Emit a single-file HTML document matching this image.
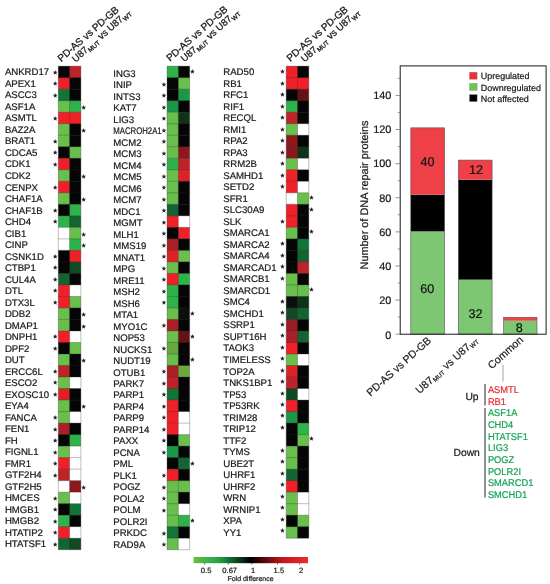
<!DOCTYPE html>
<html><head><meta charset="utf-8"><title>DNA repair proteins</title>
<style>
html,body{margin:0;padding:0;background:#fff}
svg{display:block;text-rendering:geometricPrecision;will-change:transform;transform:translateZ(0);filter:blur(.35px)}
text{font-family:"Liberation Sans",Arial,sans-serif;fill:#1a1a1a;stroke:#1a1a1a;stroke-width:.22px}
.g{font-size:9.6px}
.st{font-family:"DejaVu Sans",sans-serif;font-size:4.3px;text-anchor:middle;stroke-width:.5px}
.gl{stroke:#303030;stroke-width:0.7;stroke-opacity:.45}
.hd{font-size:10.0px;stroke:#1a1a1a;stroke-width:.28px}
.sub{font-size:6.4px}
.xl{font-size:10.6px;stroke-width:.2px}
.xl .sub{font-size:6.3px}
.cbt{font-size:7px}
.tk{font-size:10.9px}
.bn{font-size:12.6px;fill:#111}
.lg{font-size:8.95px}
.cm{font-size:9.8px}
.ud{font-size:10.3px}
</style></head><body>
<svg width="550" height="584" viewBox="0 0 550 584">
<defs><linearGradient id="cb" x1="0" x2="1" y1="0" y2="0">
<stop offset="0" stop-color="#6cbd45"/><stop offset="0.22" stop-color="#1fa548"/><stop offset="0.5" stop-color="#000"/><stop offset="0.78" stop-color="#c4161c"/><stop offset="1" stop-color="#ee2b2b"/>
</linearGradient></defs>
<rect width="550" height="584" fill="#fff"/>
<rect x="58.30" y="66.15" width="11.80" height="12.01" fill="#050505"/>
<rect x="69.60" y="66.15" width="11.30" height="12.01" fill="#be2329"/>
<text x="4.9" y="75.36" class="g">ANKRD17</text>
<text x="55.30" y="73.61" class="st">★</text>
<rect x="58.30" y="77.66" width="11.80" height="12.01" fill="#f02028"/>
<rect x="69.60" y="77.66" width="11.30" height="12.01" fill="#050505"/>
<text x="4.9" y="86.87" class="g">APEX1</text>
<text x="55.30" y="85.12" class="st">★</text>
<rect x="58.30" y="89.18" width="11.80" height="12.01" fill="#127438"/>
<rect x="69.60" y="89.18" width="11.30" height="12.01" fill="#050505"/>
<text x="4.9" y="98.39" class="g">ASCC3</text>
<text x="55.30" y="96.64" class="st">★</text>
<rect x="58.30" y="100.69" width="11.80" height="12.01" fill="#69bf4b"/>
<rect x="69.60" y="100.69" width="11.30" height="12.01" fill="#2db34a"/>
<text x="4.9" y="109.90" class="g">ASF1A</text>
<text x="83.60" y="108.95" class="st">★</text>
<rect x="58.30" y="112.21" width="11.80" height="12.01" fill="#f02028"/>
<rect x="69.60" y="112.21" width="11.30" height="12.01" fill="#f02028"/>
<text x="4.9" y="121.41" class="g">ASMTL</text>
<text x="55.30" y="119.66" class="st">★</text>
<rect x="58.30" y="123.72" width="11.80" height="12.01" fill="#69bf4b"/>
<rect x="69.60" y="123.72" width="11.30" height="12.01" fill="#050505"/>
<text x="4.9" y="132.93" class="g">BAZ2A</text>
<text x="83.60" y="131.98" class="st">★</text>
<rect x="58.30" y="135.23" width="11.80" height="12.01" fill="#69bf4b"/>
<rect x="69.60" y="135.23" width="11.30" height="12.01" fill="#050505"/>
<text x="4.9" y="144.44" class="g">BRAT1</text>
<text x="55.30" y="142.69" class="st">★</text>
<rect x="58.30" y="146.75" width="11.80" height="12.01" fill="#050505"/>
<rect x="69.60" y="146.75" width="11.30" height="12.01" fill="#69bf4b"/>
<text x="4.9" y="155.95" class="g">CDCA5</text>
<text x="55.30" y="154.20" class="st">★</text>
<rect x="58.30" y="158.26" width="11.80" height="12.01" fill="#f02028"/>
<rect x="69.60" y="158.26" width="11.30" height="12.01" fill="#050505"/>
<text x="4.9" y="167.47" class="g">CDK1</text>
<text x="55.30" y="165.72" class="st">★</text>
<rect x="58.30" y="169.78" width="11.80" height="12.01" fill="#69bf4b"/>
<rect x="69.60" y="169.78" width="11.30" height="12.01" fill="#050505"/>
<text x="4.9" y="178.98" class="g">CDK2</text>
<text x="83.60" y="178.03" class="st">★</text>
<rect x="58.30" y="181.29" width="11.80" height="12.01" fill="#f02028"/>
<rect x="69.60" y="181.29" width="11.30" height="12.01" fill="#050505"/>
<text x="4.9" y="190.50" class="g">CENPX</text>
<text x="55.30" y="188.75" class="st">★</text>
<rect x="58.30" y="192.80" width="11.80" height="12.01" fill="#69bf4b"/>
<rect x="69.60" y="192.80" width="11.30" height="12.01" fill="#050505"/>
<text x="4.9" y="202.01" class="g">CHAF1A</text>
<text x="83.60" y="201.06" class="st">★</text>
<rect x="58.30" y="204.32" width="11.80" height="12.01" fill="#050505"/>
<rect x="69.60" y="204.32" width="11.30" height="12.01" fill="#2db34a"/>
<text x="4.9" y="213.53" class="g">CHAF1B</text>
<text x="55.30" y="211.78" class="st">★</text>
<rect x="58.30" y="215.83" width="11.80" height="12.01" fill="#2db34a"/>
<rect x="69.60" y="215.83" width="11.30" height="12.01" fill="#146433"/>
<text x="4.9" y="225.04" class="g">CHD4</text>
<text x="55.30" y="223.29" class="st">★</text>
<rect x="58.30" y="227.35" width="11.80" height="12.01" fill="#ffffff"/>
<rect x="69.60" y="227.35" width="11.30" height="12.01" fill="#69bf4b"/>
<text x="4.9" y="236.55" class="g">CIB1</text>
<text x="83.60" y="235.60" class="st">★</text>
<rect x="58.30" y="238.86" width="11.80" height="12.01" fill="#ffffff"/>
<rect x="69.60" y="238.86" width="11.30" height="12.01" fill="#2db34a"/>
<text x="4.9" y="248.07" class="g">CINP</text>
<text x="83.60" y="247.12" class="st">★</text>
<rect x="58.30" y="250.37" width="11.80" height="12.01" fill="#050505"/>
<rect x="69.60" y="250.37" width="11.30" height="12.01" fill="#f02028"/>
<text x="4.9" y="259.58" class="g">CSNK1D</text>
<text x="55.30" y="257.83" class="st">★</text>
<rect x="58.30" y="261.89" width="11.80" height="12.01" fill="#050505"/>
<rect x="69.60" y="261.89" width="11.30" height="12.01" fill="#104a25"/>
<text x="4.9" y="271.10" class="g">CTBP1</text>
<text x="55.30" y="269.35" class="st">★</text>
<rect x="58.30" y="273.40" width="11.80" height="12.01" fill="#146433"/>
<rect x="69.60" y="273.40" width="11.30" height="12.01" fill="#050505"/>
<text x="4.9" y="282.61" class="g">CUL4A</text>
<text x="55.30" y="280.86" class="st">★</text>
<rect x="58.30" y="284.92" width="11.80" height="12.01" fill="#f02028"/>
<rect x="69.60" y="284.92" width="11.30" height="12.01" fill="#ffffff"/>
<text x="4.9" y="294.12" class="g">DTL</text>
<text x="55.30" y="292.37" class="st">★</text>
<rect x="58.30" y="296.43" width="11.80" height="12.01" fill="#f02028"/>
<rect x="69.60" y="296.43" width="11.30" height="12.01" fill="#69bf4b"/>
<text x="4.9" y="305.64" class="g">DTX3L</text>
<text x="55.30" y="303.89" class="st">★</text>
<rect x="58.30" y="307.94" width="11.80" height="12.01" fill="#69bf4b"/>
<rect x="69.60" y="307.94" width="11.30" height="12.01" fill="#050505"/>
<text x="4.9" y="317.15" class="g">DDB2</text>
<text x="83.60" y="316.20" class="st">★</text>
<rect x="58.30" y="319.46" width="11.80" height="12.01" fill="#69bf4b"/>
<rect x="69.60" y="319.46" width="11.30" height="12.01" fill="#050505"/>
<text x="4.9" y="328.66" class="g">DMAP1</text>
<text x="83.60" y="327.71" class="st">★</text>
<rect x="58.30" y="330.97" width="11.80" height="12.01" fill="#f02028"/>
<rect x="69.60" y="330.97" width="11.30" height="12.01" fill="#ffffff"/>
<text x="4.9" y="340.18" class="g">DNPH1</text>
<text x="55.30" y="338.43" class="st">★</text>
<rect x="58.30" y="342.49" width="11.80" height="12.01" fill="#050505"/>
<rect x="69.60" y="342.49" width="11.30" height="12.01" fill="#69bf4b"/>
<text x="4.9" y="351.69" class="g">DPF2</text>
<text x="55.30" y="349.94" class="st">★</text>
<rect x="58.30" y="354.00" width="11.80" height="12.01" fill="#69bf4b"/>
<rect x="69.60" y="354.00" width="11.30" height="12.01" fill="#050505"/>
<text x="4.9" y="363.21" class="g">DUT</text>
<text x="83.60" y="362.26" class="st">★</text>
<rect x="58.30" y="365.51" width="11.80" height="12.01" fill="#be2329"/>
<rect x="69.60" y="365.51" width="11.30" height="12.01" fill="#050505"/>
<text x="4.9" y="374.72" class="g">ERCC6L</text>
<text x="55.30" y="372.97" class="st">★</text>
<rect x="58.30" y="377.03" width="11.80" height="12.01" fill="#69bf4b"/>
<rect x="69.60" y="377.03" width="11.30" height="12.01" fill="#ffffff"/>
<text x="4.9" y="386.24" class="g">ESCO2</text>
<text x="55.30" y="384.49" class="st">★</text>
<rect x="58.30" y="388.54" width="11.80" height="12.01" fill="#de2127"/>
<rect x="69.60" y="388.54" width="11.30" height="12.01" fill="#050505"/>
<text x="4.9" y="397.75" class="g">EXOSC10</text>
<text x="55.30" y="396.00" class="st">★</text>
<rect x="58.30" y="400.06" width="11.80" height="12.01" fill="#69bf4b"/>
<rect x="69.60" y="400.06" width="11.30" height="12.01" fill="#050505"/>
<text x="4.9" y="409.26" class="g">EYA4</text>
<text x="83.60" y="408.31" class="st">★</text>
<rect x="58.30" y="411.57" width="11.80" height="12.01" fill="#69bf4b"/>
<rect x="69.60" y="411.57" width="11.30" height="12.01" fill="#ffffff"/>
<text x="4.9" y="420.78" class="g">FANCA</text>
<text x="55.30" y="419.03" class="st">★</text>
<rect x="58.30" y="423.08" width="11.80" height="12.01" fill="#ab2026"/>
<rect x="69.60" y="423.08" width="11.30" height="12.01" fill="#050505"/>
<text x="4.9" y="432.29" class="g">FEN1</text>
<text x="55.30" y="430.54" class="st">★</text>
<rect x="58.30" y="434.60" width="11.80" height="12.01" fill="#050505"/>
<rect x="69.60" y="434.60" width="11.30" height="12.01" fill="#2db34a"/>
<text x="4.9" y="443.80" class="g">FH</text>
<text x="55.30" y="442.05" class="st">★</text>
<rect x="58.30" y="446.11" width="11.80" height="12.01" fill="#69bf4b"/>
<rect x="69.60" y="446.11" width="11.30" height="12.01" fill="#ffffff"/>
<text x="4.9" y="455.32" class="g">FIGNL1</text>
<text x="55.30" y="453.57" class="st">★</text>
<rect x="58.30" y="457.63" width="11.80" height="12.01" fill="#f02028"/>
<rect x="69.60" y="457.63" width="11.30" height="12.01" fill="#ffffff"/>
<text x="4.9" y="466.83" class="g">FMR1</text>
<text x="55.30" y="465.08" class="st">★</text>
<rect x="58.30" y="469.14" width="11.80" height="12.01" fill="#be2329"/>
<rect x="69.60" y="469.14" width="11.30" height="12.01" fill="#ffffff"/>
<text x="4.9" y="478.35" class="g">GTF2H4</text>
<text x="55.30" y="476.60" class="st">★</text>
<rect x="58.30" y="480.65" width="11.80" height="12.01" fill="#ffffff"/>
<rect x="69.60" y="480.65" width="11.30" height="12.01" fill="#8c181c"/>
<text x="4.9" y="489.86" class="g">GTF2H5</text>
<text x="83.60" y="488.91" class="st">★</text>
<rect x="58.30" y="492.17" width="11.80" height="12.01" fill="#69bf4b"/>
<rect x="69.60" y="492.17" width="11.30" height="12.01" fill="#ffffff"/>
<text x="4.9" y="501.38" class="g">HMCES</text>
<text x="55.30" y="499.62" class="st">★</text>
<rect x="58.30" y="503.68" width="11.80" height="12.01" fill="#050505"/>
<rect x="69.60" y="503.68" width="11.30" height="12.01" fill="#127438"/>
<text x="4.9" y="512.89" class="g">HMGB1</text>
<text x="55.30" y="511.14" class="st">★</text>
<rect x="58.30" y="515.20" width="11.80" height="12.01" fill="#2db34a"/>
<rect x="69.60" y="515.20" width="11.30" height="12.01" fill="#050505"/>
<text x="4.9" y="524.40" class="g">HMGB2</text>
<text x="55.30" y="522.65" class="st">★</text>
<rect x="58.30" y="526.71" width="11.80" height="12.01" fill="#f02028"/>
<rect x="69.60" y="526.71" width="11.30" height="12.01" fill="#ffffff"/>
<text x="4.9" y="535.92" class="g">HTATIP2</text>
<text x="55.30" y="534.17" class="st">★</text>
<rect x="58.30" y="538.22" width="11.80" height="11.51" fill="#146433"/>
<rect x="69.60" y="538.22" width="11.30" height="11.51" fill="#104a25"/>
<text x="4.9" y="547.43" class="g">HTATSF1</text>
<text x="55.30" y="545.68" class="st">★</text>
<line x1="58.30" x2="80.90" y1="66.15" y2="66.15" class="gl"/>
<line x1="58.30" x2="80.90" y1="77.66" y2="77.66" class="gl"/>
<line x1="58.30" x2="80.90" y1="89.18" y2="89.18" class="gl"/>
<line x1="58.30" x2="80.90" y1="100.69" y2="100.69" class="gl"/>
<line x1="58.30" x2="80.90" y1="112.21" y2="112.21" class="gl"/>
<line x1="58.30" x2="80.90" y1="123.72" y2="123.72" class="gl"/>
<line x1="58.30" x2="80.90" y1="135.23" y2="135.23" class="gl"/>
<line x1="58.30" x2="80.90" y1="146.75" y2="146.75" class="gl"/>
<line x1="58.30" x2="80.90" y1="158.26" y2="158.26" class="gl"/>
<line x1="58.30" x2="80.90" y1="169.78" y2="169.78" class="gl"/>
<line x1="58.30" x2="80.90" y1="181.29" y2="181.29" class="gl"/>
<line x1="58.30" x2="80.90" y1="192.80" y2="192.80" class="gl"/>
<line x1="58.30" x2="80.90" y1="204.32" y2="204.32" class="gl"/>
<line x1="58.30" x2="80.90" y1="215.83" y2="215.83" class="gl"/>
<line x1="58.30" x2="80.90" y1="227.35" y2="227.35" class="gl"/>
<line x1="58.30" x2="80.90" y1="238.86" y2="238.86" class="gl"/>
<line x1="58.30" x2="80.90" y1="250.37" y2="250.37" class="gl"/>
<line x1="58.30" x2="80.90" y1="261.89" y2="261.89" class="gl"/>
<line x1="58.30" x2="80.90" y1="273.40" y2="273.40" class="gl"/>
<line x1="58.30" x2="80.90" y1="284.92" y2="284.92" class="gl"/>
<line x1="58.30" x2="80.90" y1="296.43" y2="296.43" class="gl"/>
<line x1="58.30" x2="80.90" y1="307.94" y2="307.94" class="gl"/>
<line x1="58.30" x2="80.90" y1="319.46" y2="319.46" class="gl"/>
<line x1="58.30" x2="80.90" y1="330.97" y2="330.97" class="gl"/>
<line x1="58.30" x2="80.90" y1="342.49" y2="342.49" class="gl"/>
<line x1="58.30" x2="80.90" y1="354.00" y2="354.00" class="gl"/>
<line x1="58.30" x2="80.90" y1="365.51" y2="365.51" class="gl"/>
<line x1="58.30" x2="80.90" y1="377.03" y2="377.03" class="gl"/>
<line x1="58.30" x2="80.90" y1="388.54" y2="388.54" class="gl"/>
<line x1="58.30" x2="80.90" y1="400.06" y2="400.06" class="gl"/>
<line x1="58.30" x2="80.90" y1="411.57" y2="411.57" class="gl"/>
<line x1="58.30" x2="80.90" y1="423.08" y2="423.08" class="gl"/>
<line x1="58.30" x2="80.90" y1="434.60" y2="434.60" class="gl"/>
<line x1="58.30" x2="80.90" y1="446.11" y2="446.11" class="gl"/>
<line x1="58.30" x2="80.90" y1="457.63" y2="457.63" class="gl"/>
<line x1="58.30" x2="80.90" y1="469.14" y2="469.14" class="gl"/>
<line x1="58.30" x2="80.90" y1="480.65" y2="480.65" class="gl"/>
<line x1="58.30" x2="80.90" y1="492.17" y2="492.17" class="gl"/>
<line x1="58.30" x2="80.90" y1="503.68" y2="503.68" class="gl"/>
<line x1="58.30" x2="80.90" y1="515.20" y2="515.20" class="gl"/>
<line x1="58.30" x2="80.90" y1="526.71" y2="526.71" class="gl"/>
<line x1="58.30" x2="80.90" y1="538.22" y2="538.22" class="gl"/>
<line x1="58.30" x2="80.90" y1="549.74" y2="549.74" class="gl"/>
<line x1="58.30" x2="58.30" y1="66.15" y2="549.74" class="gl"/>
<line x1="69.60" x2="69.60" y1="66.15" y2="549.74" class="gl"/>
<line x1="80.90" x2="80.90" y1="66.15" y2="549.74" class="gl"/>
<rect x="167.05" y="66.15" width="11.80" height="12.01" fill="#2db34a"/>
<rect x="178.35" y="66.15" width="11.30" height="12.01" fill="#050505"/>
<text x="113.3" y="76.66" class="g">ING3</text>
<text x="192.35" y="73.41" class="st">★</text>
<rect x="167.05" y="77.66" width="11.80" height="12.01" fill="#050505"/>
<rect x="178.35" y="77.66" width="11.30" height="12.01" fill="#69bf4b"/>
<text x="113.3" y="88.15" class="g">INIP</text>
<text x="164.05" y="85.52" class="st">★</text>
<rect x="167.05" y="89.18" width="11.80" height="12.01" fill="#050505"/>
<rect x="178.35" y="89.18" width="11.30" height="12.01" fill="#1b9847"/>
<text x="113.3" y="99.65" class="g">INTS3</text>
<text x="164.05" y="97.03" class="st">★</text>
<rect x="167.05" y="100.69" width="11.80" height="12.01" fill="#1b9847"/>
<rect x="178.35" y="100.69" width="11.30" height="12.01" fill="#050505"/>
<text x="113.3" y="111.14" class="g">KAT7</text>
<text x="164.05" y="108.55" class="st">★</text>
<rect x="167.05" y="112.21" width="11.80" height="12.01" fill="#69bf4b"/>
<rect x="178.35" y="112.21" width="11.30" height="12.01" fill="#0f3319"/>
<text x="113.3" y="122.63" class="g">LIG3</text>
<text x="164.05" y="120.06" class="st">★</text>
<rect x="167.05" y="123.72" width="11.80" height="12.01" fill="#69bf4b"/>
<rect x="178.35" y="123.72" width="11.30" height="12.01" fill="#050505"/>
<text x="113.3" y="134.08" class="g" textLength="48.4" lengthAdjust="spacingAndGlyphs">MACROH2A1</text>
<text x="164.05" y="131.58" class="st">★</text>
<rect x="167.05" y="135.23" width="11.80" height="12.01" fill="#69bf4b"/>
<rect x="178.35" y="135.23" width="11.30" height="12.01" fill="#050505"/>
<text x="113.3" y="145.62" class="g">MCM2</text>
<text x="164.05" y="143.09" class="st">★</text>
<rect x="167.05" y="146.75" width="11.80" height="12.01" fill="#69bf4b"/>
<rect x="178.35" y="146.75" width="11.30" height="12.01" fill="#8c181c"/>
<text x="113.3" y="157.11" class="g">MCM3</text>
<text x="164.05" y="154.60" class="st">★</text>
<rect x="167.05" y="158.26" width="11.80" height="12.01" fill="#2db34a"/>
<rect x="178.35" y="158.26" width="11.30" height="12.01" fill="#be2329"/>
<text x="113.3" y="168.61" class="g">MCM4</text>
<text x="164.05" y="166.12" class="st">★</text>
<rect x="167.05" y="169.78" width="11.80" height="12.01" fill="#69bf4b"/>
<rect x="178.35" y="169.78" width="11.30" height="12.01" fill="#de2127"/>
<text x="113.3" y="180.10" class="g">MCM5</text>
<text x="164.05" y="177.63" class="st">★</text>
<rect x="167.05" y="181.29" width="11.80" height="12.01" fill="#69bf4b"/>
<rect x="178.35" y="181.29" width="11.30" height="12.01" fill="#050505"/>
<text x="113.3" y="191.60" class="g">MCM6</text>
<text x="164.05" y="189.15" class="st">★</text>
<rect x="167.05" y="192.80" width="11.80" height="12.01" fill="#69bf4b"/>
<rect x="178.35" y="192.80" width="11.30" height="12.01" fill="#050505"/>
<text x="113.3" y="203.09" class="g">MCM7</text>
<text x="164.05" y="200.66" class="st">★</text>
<rect x="167.05" y="204.32" width="11.80" height="12.01" fill="#146433"/>
<rect x="178.35" y="204.32" width="11.30" height="12.01" fill="#050505"/>
<text x="113.3" y="214.59" class="g">MDC1</text>
<text x="164.05" y="212.18" class="st">★</text>
<rect x="167.05" y="215.83" width="11.80" height="12.01" fill="#f02028"/>
<rect x="178.35" y="215.83" width="11.30" height="12.01" fill="#ffffff"/>
<text x="113.3" y="226.08" class="g">MGMT</text>
<text x="164.05" y="223.69" class="st">★</text>
<rect x="167.05" y="227.35" width="11.80" height="12.01" fill="#050505"/>
<rect x="178.35" y="227.35" width="11.30" height="12.01" fill="#f02028"/>
<text x="113.3" y="237.57" class="g">MLH1</text>
<text x="164.05" y="235.20" class="st">★</text>
<rect x="167.05" y="238.86" width="11.80" height="12.01" fill="#ab2026"/>
<rect x="178.35" y="238.86" width="11.30" height="12.01" fill="#050505"/>
<text x="113.3" y="249.07" class="g">MMS19</text>
<text x="164.05" y="246.72" class="st">★</text>
<rect x="167.05" y="250.37" width="11.80" height="12.01" fill="#de2127"/>
<rect x="178.35" y="250.37" width="11.30" height="12.01" fill="#69bf4b"/>
<text x="113.3" y="260.56" class="g">MNAT1</text>
<text x="164.05" y="258.23" class="st">★</text>
<rect x="167.05" y="261.89" width="11.80" height="12.01" fill="#69bf4b"/>
<rect x="178.35" y="261.89" width="11.30" height="12.01" fill="#050505"/>
<text x="113.3" y="272.06" class="g">MPG</text>
<text x="164.05" y="269.75" class="st">★</text>
<rect x="167.05" y="273.40" width="11.80" height="12.01" fill="#f02028"/>
<rect x="178.35" y="273.40" width="11.30" height="12.01" fill="#2db34a"/>
<text x="113.3" y="283.55" class="g">MRE11</text>
<text x="164.05" y="281.26" class="st">★</text>
<rect x="167.05" y="284.92" width="11.80" height="12.01" fill="#2db34a"/>
<rect x="178.35" y="284.92" width="11.30" height="12.01" fill="#050505"/>
<text x="113.3" y="295.04" class="g">MSH2</text>
<text x="164.05" y="292.77" class="st">★</text>
<rect x="167.05" y="296.43" width="11.80" height="12.01" fill="#2db34a"/>
<rect x="178.35" y="296.43" width="11.30" height="12.01" fill="#050505"/>
<text x="113.3" y="306.54" class="g">MSH6</text>
<text x="164.05" y="304.29" class="st">★</text>
<rect x="167.05" y="307.94" width="11.80" height="12.01" fill="#69bf4b"/>
<rect x="178.35" y="307.94" width="11.30" height="12.01" fill="#0e0e0e"/>
<text x="113.3" y="318.03" class="g">MTA1</text>
<text x="192.35" y="315.20" class="st">★</text>
<rect x="167.05" y="319.46" width="11.80" height="12.01" fill="#ab2026"/>
<rect x="178.35" y="319.46" width="11.30" height="12.01" fill="#050505"/>
<text x="113.3" y="329.52" class="g">MYO1C</text>
<text x="164.05" y="327.31" class="st">★</text>
<rect x="167.05" y="330.97" width="11.80" height="12.01" fill="#69bf4b"/>
<rect x="178.35" y="330.97" width="11.30" height="12.01" fill="#651216"/>
<text x="113.3" y="341.02" class="g">NOP53</text>
<text x="192.35" y="338.23" class="st">★</text>
<rect x="167.05" y="342.49" width="11.80" height="12.01" fill="#6aa83e"/>
<rect x="178.35" y="342.49" width="11.30" height="12.01" fill="#050505"/>
<text x="113.3" y="352.51" class="g">NUCKS1</text>
<text x="164.05" y="350.34" class="st">★</text>
<rect x="167.05" y="354.00" width="11.80" height="12.01" fill="#69bf4b"/>
<rect x="178.35" y="354.00" width="11.30" height="12.01" fill="#050505"/>
<text x="113.3" y="364.01" class="g">NUDT19</text>
<text x="192.35" y="361.26" class="st">★</text>
<rect x="167.05" y="365.51" width="11.80" height="12.01" fill="#ab2026"/>
<rect x="178.35" y="365.51" width="11.30" height="12.01" fill="#6aa83e"/>
<text x="113.3" y="375.50" class="g">OTUB1</text>
<text x="164.05" y="373.37" class="st">★</text>
<rect x="167.05" y="377.03" width="11.80" height="12.01" fill="#be2329"/>
<rect x="178.35" y="377.03" width="11.30" height="12.01" fill="#050505"/>
<text x="113.3" y="387.00" class="g">PARK7</text>
<text x="164.05" y="384.89" class="st">★</text>
<rect x="167.05" y="388.54" width="11.80" height="12.01" fill="#127438"/>
<rect x="178.35" y="388.54" width="11.30" height="12.01" fill="#050505"/>
<text x="113.3" y="398.49" class="g">PARP1</text>
<text x="164.05" y="396.40" class="st">★</text>
<rect x="167.05" y="400.06" width="11.80" height="12.01" fill="#f02028"/>
<rect x="178.35" y="400.06" width="11.30" height="12.01" fill="#050505"/>
<text x="113.3" y="409.98" class="g">PARP4</text>
<text x="164.05" y="407.91" class="st">★</text>
<rect x="167.05" y="411.57" width="11.80" height="12.01" fill="#f02028"/>
<rect x="178.35" y="411.57" width="11.30" height="12.01" fill="#ffffff"/>
<text x="113.3" y="421.48" class="g">PARP9</text>
<text x="164.05" y="419.43" class="st">★</text>
<rect x="167.05" y="423.08" width="11.80" height="12.01" fill="#f02028"/>
<rect x="178.35" y="423.08" width="11.30" height="12.01" fill="#ffffff"/>
<text x="113.3" y="432.97" class="g">PARP14</text>
<text x="164.05" y="430.94" class="st">★</text>
<rect x="167.05" y="434.60" width="11.80" height="12.01" fill="#050505"/>
<rect x="178.35" y="434.60" width="11.30" height="12.01" fill="#69bf4b"/>
<text x="113.3" y="444.46" class="g">PAXX</text>
<text x="164.05" y="442.45" class="st">★</text>
<rect x="167.05" y="446.11" width="11.80" height="12.01" fill="#1b9847"/>
<rect x="178.35" y="446.11" width="11.30" height="12.01" fill="#050505"/>
<text x="113.3" y="455.96" class="g">PCNA</text>
<text x="164.05" y="453.97" class="st">★</text>
<rect x="167.05" y="457.63" width="11.80" height="12.01" fill="#050505"/>
<rect x="178.35" y="457.63" width="11.30" height="12.01" fill="#146433"/>
<text x="113.3" y="467.45" class="g">PML</text>
<text x="192.35" y="464.88" class="st">★</text>
<rect x="167.05" y="469.14" width="11.80" height="12.01" fill="#f02028"/>
<rect x="178.35" y="469.14" width="11.30" height="12.01" fill="#050505"/>
<text x="113.3" y="478.95" class="g">PLK1</text>
<text x="164.05" y="477.00" class="st">★</text>
<rect x="167.05" y="480.65" width="11.80" height="12.01" fill="#69bf4b"/>
<rect x="178.35" y="480.65" width="11.30" height="12.01" fill="#69bf4b"/>
<text x="113.3" y="490.44" class="g">POGZ</text>
<text x="164.05" y="488.51" class="st">★</text>
<rect x="167.05" y="492.17" width="11.80" height="12.01" fill="#69bf4b"/>
<rect x="178.35" y="492.17" width="11.30" height="12.01" fill="#050505"/>
<text x="113.3" y="501.94" class="g">POLA2</text>
<text x="164.05" y="500.03" class="st">★</text>
<rect x="167.05" y="503.68" width="11.80" height="12.01" fill="#69bf4b"/>
<rect x="178.35" y="503.68" width="11.30" height="12.01" fill="#ffffff"/>
<text x="113.3" y="513.43" class="g">POLM</text>
<text x="164.05" y="511.54" class="st">★</text>
<rect x="167.05" y="515.20" width="11.80" height="12.01" fill="#69bf4b"/>
<rect x="178.35" y="515.20" width="11.30" height="12.01" fill="#2db34a"/>
<text x="113.3" y="524.92" class="g">POLR2I</text>
<text x="192.35" y="522.45" class="st">★</text>
<rect x="167.05" y="526.71" width="11.80" height="12.01" fill="#127438"/>
<rect x="178.35" y="526.71" width="11.30" height="12.01" fill="#050505"/>
<text x="113.3" y="536.42" class="g">PRKDC</text>
<text x="164.05" y="534.57" class="st">★</text>
<rect x="167.05" y="538.22" width="11.80" height="11.51" fill="#69bf4b"/>
<rect x="178.35" y="538.22" width="11.30" height="11.51" fill="#ffffff"/>
<text x="113.3" y="547.91" class="g">RAD9A</text>
<text x="164.05" y="546.08" class="st">★</text>
<line x1="167.05" x2="189.65" y1="66.15" y2="66.15" class="gl"/>
<line x1="167.05" x2="189.65" y1="77.66" y2="77.66" class="gl"/>
<line x1="167.05" x2="189.65" y1="89.18" y2="89.18" class="gl"/>
<line x1="167.05" x2="189.65" y1="100.69" y2="100.69" class="gl"/>
<line x1="167.05" x2="189.65" y1="112.21" y2="112.21" class="gl"/>
<line x1="167.05" x2="189.65" y1="123.72" y2="123.72" class="gl"/>
<line x1="167.05" x2="189.65" y1="135.23" y2="135.23" class="gl"/>
<line x1="167.05" x2="189.65" y1="146.75" y2="146.75" class="gl"/>
<line x1="167.05" x2="189.65" y1="158.26" y2="158.26" class="gl"/>
<line x1="167.05" x2="189.65" y1="169.78" y2="169.78" class="gl"/>
<line x1="167.05" x2="189.65" y1="181.29" y2="181.29" class="gl"/>
<line x1="167.05" x2="189.65" y1="192.80" y2="192.80" class="gl"/>
<line x1="167.05" x2="189.65" y1="204.32" y2="204.32" class="gl"/>
<line x1="167.05" x2="189.65" y1="215.83" y2="215.83" class="gl"/>
<line x1="167.05" x2="189.65" y1="227.35" y2="227.35" class="gl"/>
<line x1="167.05" x2="189.65" y1="238.86" y2="238.86" class="gl"/>
<line x1="167.05" x2="189.65" y1="250.37" y2="250.37" class="gl"/>
<line x1="167.05" x2="189.65" y1="261.89" y2="261.89" class="gl"/>
<line x1="167.05" x2="189.65" y1="273.40" y2="273.40" class="gl"/>
<line x1="167.05" x2="189.65" y1="284.92" y2="284.92" class="gl"/>
<line x1="167.05" x2="189.65" y1="296.43" y2="296.43" class="gl"/>
<line x1="167.05" x2="189.65" y1="307.94" y2="307.94" class="gl"/>
<line x1="167.05" x2="189.65" y1="319.46" y2="319.46" class="gl"/>
<line x1="167.05" x2="189.65" y1="330.97" y2="330.97" class="gl"/>
<line x1="167.05" x2="189.65" y1="342.49" y2="342.49" class="gl"/>
<line x1="167.05" x2="189.65" y1="354.00" y2="354.00" class="gl"/>
<line x1="167.05" x2="189.65" y1="365.51" y2="365.51" class="gl"/>
<line x1="167.05" x2="189.65" y1="377.03" y2="377.03" class="gl"/>
<line x1="167.05" x2="189.65" y1="388.54" y2="388.54" class="gl"/>
<line x1="167.05" x2="189.65" y1="400.06" y2="400.06" class="gl"/>
<line x1="167.05" x2="189.65" y1="411.57" y2="411.57" class="gl"/>
<line x1="167.05" x2="189.65" y1="423.08" y2="423.08" class="gl"/>
<line x1="167.05" x2="189.65" y1="434.60" y2="434.60" class="gl"/>
<line x1="167.05" x2="189.65" y1="446.11" y2="446.11" class="gl"/>
<line x1="167.05" x2="189.65" y1="457.63" y2="457.63" class="gl"/>
<line x1="167.05" x2="189.65" y1="469.14" y2="469.14" class="gl"/>
<line x1="167.05" x2="189.65" y1="480.65" y2="480.65" class="gl"/>
<line x1="167.05" x2="189.65" y1="492.17" y2="492.17" class="gl"/>
<line x1="167.05" x2="189.65" y1="503.68" y2="503.68" class="gl"/>
<line x1="167.05" x2="189.65" y1="515.20" y2="515.20" class="gl"/>
<line x1="167.05" x2="189.65" y1="526.71" y2="526.71" class="gl"/>
<line x1="167.05" x2="189.65" y1="538.22" y2="538.22" class="gl"/>
<line x1="167.05" x2="189.65" y1="549.74" y2="549.74" class="gl"/>
<line x1="167.05" x2="167.05" y1="66.15" y2="549.74" class="gl"/>
<line x1="178.35" x2="178.35" y1="66.15" y2="549.74" class="gl"/>
<line x1="189.65" x2="189.65" y1="66.15" y2="549.74" class="gl"/>
<rect x="286.20" y="66.15" width="11.80" height="12.01" fill="#f02028"/>
<rect x="297.50" y="66.15" width="11.30" height="12.01" fill="#050505"/>
<text x="223.3" y="75.16" class="g">RAD50</text>
<text x="282.50" y="73.41" class="st">★</text>
<rect x="286.20" y="77.66" width="11.80" height="12.01" fill="#f02028"/>
<rect x="297.50" y="77.66" width="11.30" height="12.01" fill="#f02028"/>
<text x="223.3" y="86.67" class="g">RB1</text>
<text x="282.50" y="84.88" class="st">★</text>
<rect x="286.20" y="89.18" width="11.80" height="12.01" fill="#050505"/>
<rect x="297.50" y="89.18" width="11.30" height="12.01" fill="#651216"/>
<text x="223.3" y="98.19" class="g">RFC1</text>
<text x="282.50" y="96.34" class="st">★</text>
<rect x="286.20" y="100.69" width="11.80" height="12.01" fill="#2db34a"/>
<rect x="297.50" y="100.69" width="11.30" height="12.01" fill="#050505"/>
<text x="223.3" y="109.70" class="g">RIF1</text>
<text x="282.50" y="107.81" class="st">★</text>
<rect x="286.20" y="112.21" width="11.80" height="12.01" fill="#be2329"/>
<rect x="297.50" y="112.21" width="11.30" height="12.01" fill="#050505"/>
<text x="223.3" y="121.21" class="g">RECQL</text>
<text x="282.50" y="119.28" class="st">★</text>
<rect x="286.20" y="123.72" width="11.80" height="12.01" fill="#69bf4b"/>
<rect x="297.50" y="123.72" width="11.30" height="12.01" fill="#ffffff"/>
<text x="223.3" y="132.73" class="g">RMI1</text>
<text x="282.50" y="130.75" class="st">★</text>
<rect x="286.20" y="135.23" width="11.80" height="12.01" fill="#8c181c"/>
<rect x="297.50" y="135.23" width="11.30" height="12.01" fill="#050505"/>
<text x="223.3" y="144.24" class="g">RPA2</text>
<text x="282.50" y="142.22" class="st">★</text>
<rect x="286.20" y="146.75" width="11.80" height="12.01" fill="#8c181c"/>
<rect x="297.50" y="146.75" width="11.30" height="12.01" fill="#0f3319"/>
<text x="223.3" y="155.75" class="g">RPA3</text>
<text x="282.50" y="153.69" class="st">★</text>
<rect x="286.20" y="158.26" width="11.80" height="12.01" fill="#69bf4b"/>
<rect x="297.50" y="158.26" width="11.30" height="12.01" fill="#ffffff"/>
<text x="223.3" y="167.27" class="g">RRM2B</text>
<text x="282.50" y="165.16" class="st">★</text>
<rect x="286.20" y="169.78" width="11.80" height="12.01" fill="#f02028"/>
<rect x="297.50" y="169.78" width="11.30" height="12.01" fill="#050505"/>
<text x="223.3" y="178.78" class="g">SAMHD1</text>
<text x="282.50" y="176.63" class="st">★</text>
<rect x="286.20" y="181.29" width="11.80" height="12.01" fill="#f02028"/>
<rect x="297.50" y="181.29" width="11.30" height="12.01" fill="#ffffff"/>
<text x="223.3" y="190.30" class="g">SETD2</text>
<text x="282.50" y="188.10" class="st">★</text>
<rect x="286.20" y="192.80" width="11.80" height="12.01" fill="#ffffff"/>
<rect x="297.50" y="192.80" width="11.30" height="12.01" fill="#69bf4b"/>
<text x="223.3" y="201.81" class="g">SFR1</text>
<text x="311.50" y="199.07" class="st">★</text>
<rect x="286.20" y="204.32" width="11.80" height="12.01" fill="#f02028"/>
<rect x="297.50" y="204.32" width="11.30" height="12.01" fill="#050505"/>
<text x="223.3" y="213.33" class="g">SLC30A9</text>
<text x="311.50" y="210.54" class="st">★</text>
<rect x="286.20" y="215.83" width="11.80" height="12.01" fill="#f02028"/>
<rect x="297.50" y="215.83" width="11.30" height="12.01" fill="#050505"/>
<text x="223.3" y="224.84" class="g">SLK</text>
<text x="282.50" y="222.50" class="st">★</text>
<rect x="286.20" y="227.35" width="11.80" height="12.01" fill="#69bf4b"/>
<rect x="297.50" y="227.35" width="11.30" height="12.01" fill="#050505"/>
<text x="223.3" y="236.35" class="g">SMARCA1</text>
<text x="311.50" y="233.47" class="st">★</text>
<rect x="286.20" y="238.86" width="11.80" height="12.01" fill="#050505"/>
<rect x="297.50" y="238.86" width="11.30" height="12.01" fill="#127438"/>
<text x="223.3" y="247.87" class="g">SMARCA2</text>
<text x="282.50" y="245.44" class="st">★</text>
<rect x="286.20" y="250.37" width="11.80" height="12.01" fill="#050505"/>
<rect x="297.50" y="250.37" width="11.30" height="12.01" fill="#146433"/>
<text x="223.3" y="259.38" class="g">SMARCA4</text>
<text x="282.50" y="256.91" class="st">★</text>
<rect x="286.20" y="261.89" width="11.80" height="12.01" fill="#050505"/>
<rect x="297.50" y="261.89" width="11.30" height="12.01" fill="#be2329"/>
<text x="223.3" y="270.90" class="g">SMARCAD1</text>
<text x="282.50" y="268.38" class="st">★</text>
<rect x="286.20" y="273.40" width="11.80" height="12.01" fill="#69bf4b"/>
<rect x="297.50" y="273.40" width="11.30" height="12.01" fill="#050505"/>
<text x="223.3" y="282.41" class="g">SMARCB1</text>
<text x="282.50" y="279.85" class="st">★</text>
<rect x="286.20" y="284.92" width="11.80" height="12.01" fill="#69bf4b"/>
<rect x="297.50" y="284.92" width="11.30" height="12.01" fill="#69bf4b"/>
<text x="223.3" y="293.92" class="g">SMARCD1</text>
<text x="311.50" y="290.82" class="st">★</text>
<rect x="286.20" y="296.43" width="11.80" height="12.01" fill="#0e0e0e"/>
<rect x="297.50" y="296.43" width="11.30" height="12.01" fill="#0f3319"/>
<text x="223.3" y="305.44" class="g">SMC4</text>
<text x="282.50" y="302.79" class="st">★</text>
<rect x="286.20" y="307.94" width="11.80" height="12.01" fill="#104a25"/>
<rect x="297.50" y="307.94" width="11.30" height="12.01" fill="#146433"/>
<text x="223.3" y="316.95" class="g">SMCHD1</text>
<text x="282.50" y="314.26" class="st">★</text>
<rect x="286.20" y="319.46" width="11.80" height="12.01" fill="#9a1c22"/>
<rect x="297.50" y="319.46" width="11.30" height="12.01" fill="#050505"/>
<text x="223.3" y="328.46" class="g">SSRP1</text>
<text x="282.50" y="325.72" class="st">★</text>
<rect x="286.20" y="330.97" width="11.80" height="12.01" fill="#ab2026"/>
<rect x="297.50" y="330.97" width="11.30" height="12.01" fill="#146433"/>
<text x="223.3" y="339.98" class="g">SUPT16H</text>
<text x="282.50" y="337.19" class="st">★</text>
<rect x="286.20" y="342.49" width="11.80" height="12.01" fill="#f02028"/>
<rect x="297.50" y="342.49" width="11.30" height="12.01" fill="#050505"/>
<text x="223.3" y="351.49" class="g">TAOK3</text>
<text x="282.50" y="348.66" class="st">★</text>
<rect x="286.20" y="354.00" width="11.80" height="12.01" fill="#69bf4b"/>
<rect x="297.50" y="354.00" width="11.30" height="12.01" fill="#ffffff"/>
<text x="223.3" y="363.01" class="g">TIMELESS</text>
<text x="282.50" y="360.13" class="st">★</text>
<rect x="286.20" y="365.51" width="11.80" height="12.01" fill="#de2127"/>
<rect x="297.50" y="365.51" width="11.30" height="12.01" fill="#050505"/>
<text x="223.3" y="374.52" class="g">TOP2A</text>
<text x="282.50" y="371.60" class="st">★</text>
<rect x="286.20" y="377.03" width="11.80" height="12.01" fill="#be2329"/>
<rect x="297.50" y="377.03" width="11.30" height="12.01" fill="#050505"/>
<text x="223.3" y="386.04" class="g">TNKS1BP1</text>
<text x="282.50" y="383.07" class="st">★</text>
<rect x="286.20" y="388.54" width="11.80" height="12.01" fill="#104a25"/>
<rect x="297.50" y="388.54" width="11.30" height="12.01" fill="#ffffff"/>
<text x="223.3" y="397.55" class="g">TP53</text>
<text x="282.50" y="394.54" class="st">★</text>
<rect x="286.20" y="400.06" width="11.80" height="12.01" fill="#f02028"/>
<rect x="297.50" y="400.06" width="11.30" height="12.01" fill="#050505"/>
<text x="223.3" y="409.06" class="g">TP53RK</text>
<text x="282.50" y="406.01" class="st">★</text>
<rect x="286.20" y="411.57" width="11.80" height="12.01" fill="#1b9847"/>
<rect x="297.50" y="411.57" width="11.30" height="12.01" fill="#050505"/>
<text x="223.3" y="420.58" class="g">TRIM28</text>
<text x="282.50" y="417.48" class="st">★</text>
<rect x="286.20" y="423.08" width="11.80" height="12.01" fill="#050505"/>
<rect x="297.50" y="423.08" width="11.30" height="12.01" fill="#2db34a"/>
<text x="223.3" y="432.09" class="g">TRIP12</text>
<text x="282.50" y="428.95" class="st">★</text>
<rect x="286.20" y="434.60" width="11.80" height="12.01" fill="#050505"/>
<rect x="297.50" y="434.60" width="11.30" height="12.01" fill="#69bf4b"/>
<text x="223.3" y="443.60" class="g">TTF2</text>
<text x="311.50" y="439.91" class="st">★</text>
<rect x="286.20" y="446.11" width="11.80" height="12.01" fill="#69bf4b"/>
<rect x="297.50" y="446.11" width="11.30" height="12.01" fill="#050505"/>
<text x="223.3" y="455.12" class="g">TYMS</text>
<text x="282.50" y="451.88" class="st">★</text>
<rect x="286.20" y="457.63" width="11.80" height="12.01" fill="#69bf4b"/>
<rect x="297.50" y="457.63" width="11.30" height="12.01" fill="#050505"/>
<text x="223.3" y="466.63" class="g">UBE2T</text>
<text x="282.50" y="463.35" class="st">★</text>
<rect x="286.20" y="469.14" width="11.80" height="12.01" fill="#146433"/>
<rect x="297.50" y="469.14" width="11.30" height="12.01" fill="#050505"/>
<text x="223.3" y="478.15" class="g">UHRF1</text>
<text x="282.50" y="474.82" class="st">★</text>
<rect x="286.20" y="480.65" width="11.80" height="12.01" fill="#f02028"/>
<rect x="297.50" y="480.65" width="11.30" height="12.01" fill="#050505"/>
<text x="223.3" y="489.66" class="g">UHRF2</text>
<text x="282.50" y="486.29" class="st">★</text>
<rect x="286.20" y="492.17" width="11.80" height="12.01" fill="#69bf4b"/>
<rect x="297.50" y="492.17" width="11.30" height="12.01" fill="#ffffff"/>
<text x="223.3" y="501.18" class="g">WRN</text>
<text x="282.50" y="497.76" class="st">★</text>
<rect x="286.20" y="503.68" width="11.80" height="12.01" fill="#69bf4b"/>
<rect x="297.50" y="503.68" width="11.30" height="12.01" fill="#ffffff"/>
<text x="223.3" y="512.69" class="g">WRNIP1</text>
<text x="282.50" y="509.23" class="st">★</text>
<rect x="286.20" y="515.20" width="11.80" height="12.01" fill="#050505"/>
<rect x="297.50" y="515.20" width="11.30" height="12.01" fill="#69bf4b"/>
<text x="223.3" y="524.20" class="g">XPA</text>
<text x="282.50" y="520.70" class="st">★</text>
<rect x="286.20" y="526.71" width="11.80" height="11.51" fill="#69bf4b"/>
<rect x="297.50" y="526.71" width="11.30" height="11.51" fill="#050505"/>
<text x="223.3" y="535.72" class="g">YY1</text>
<text x="282.50" y="532.17" class="st">★</text>
<line x1="286.20" x2="308.80" y1="66.15" y2="66.15" class="gl"/>
<line x1="286.20" x2="308.80" y1="77.66" y2="77.66" class="gl"/>
<line x1="286.20" x2="308.80" y1="89.18" y2="89.18" class="gl"/>
<line x1="286.20" x2="308.80" y1="100.69" y2="100.69" class="gl"/>
<line x1="286.20" x2="308.80" y1="112.21" y2="112.21" class="gl"/>
<line x1="286.20" x2="308.80" y1="123.72" y2="123.72" class="gl"/>
<line x1="286.20" x2="308.80" y1="135.23" y2="135.23" class="gl"/>
<line x1="286.20" x2="308.80" y1="146.75" y2="146.75" class="gl"/>
<line x1="286.20" x2="308.80" y1="158.26" y2="158.26" class="gl"/>
<line x1="286.20" x2="308.80" y1="169.78" y2="169.78" class="gl"/>
<line x1="286.20" x2="308.80" y1="181.29" y2="181.29" class="gl"/>
<line x1="286.20" x2="308.80" y1="192.80" y2="192.80" class="gl"/>
<line x1="286.20" x2="308.80" y1="204.32" y2="204.32" class="gl"/>
<line x1="286.20" x2="308.80" y1="215.83" y2="215.83" class="gl"/>
<line x1="286.20" x2="308.80" y1="227.35" y2="227.35" class="gl"/>
<line x1="286.20" x2="308.80" y1="238.86" y2="238.86" class="gl"/>
<line x1="286.20" x2="308.80" y1="250.37" y2="250.37" class="gl"/>
<line x1="286.20" x2="308.80" y1="261.89" y2="261.89" class="gl"/>
<line x1="286.20" x2="308.80" y1="273.40" y2="273.40" class="gl"/>
<line x1="286.20" x2="308.80" y1="284.92" y2="284.92" class="gl"/>
<line x1="286.20" x2="308.80" y1="296.43" y2="296.43" class="gl"/>
<line x1="286.20" x2="308.80" y1="307.94" y2="307.94" class="gl"/>
<line x1="286.20" x2="308.80" y1="319.46" y2="319.46" class="gl"/>
<line x1="286.20" x2="308.80" y1="330.97" y2="330.97" class="gl"/>
<line x1="286.20" x2="308.80" y1="342.49" y2="342.49" class="gl"/>
<line x1="286.20" x2="308.80" y1="354.00" y2="354.00" class="gl"/>
<line x1="286.20" x2="308.80" y1="365.51" y2="365.51" class="gl"/>
<line x1="286.20" x2="308.80" y1="377.03" y2="377.03" class="gl"/>
<line x1="286.20" x2="308.80" y1="388.54" y2="388.54" class="gl"/>
<line x1="286.20" x2="308.80" y1="400.06" y2="400.06" class="gl"/>
<line x1="286.20" x2="308.80" y1="411.57" y2="411.57" class="gl"/>
<line x1="286.20" x2="308.80" y1="423.08" y2="423.08" class="gl"/>
<line x1="286.20" x2="308.80" y1="434.60" y2="434.60" class="gl"/>
<line x1="286.20" x2="308.80" y1="446.11" y2="446.11" class="gl"/>
<line x1="286.20" x2="308.80" y1="457.63" y2="457.63" class="gl"/>
<line x1="286.20" x2="308.80" y1="469.14" y2="469.14" class="gl"/>
<line x1="286.20" x2="308.80" y1="480.65" y2="480.65" class="gl"/>
<line x1="286.20" x2="308.80" y1="492.17" y2="492.17" class="gl"/>
<line x1="286.20" x2="308.80" y1="503.68" y2="503.68" class="gl"/>
<line x1="286.20" x2="308.80" y1="515.20" y2="515.20" class="gl"/>
<line x1="286.20" x2="308.80" y1="526.71" y2="526.71" class="gl"/>
<line x1="286.20" x2="308.80" y1="538.22" y2="538.22" class="gl"/>
<line x1="286.20" x2="286.20" y1="66.15" y2="538.22" class="gl"/>
<line x1="297.50" x2="297.50" y1="66.15" y2="538.22" class="gl"/>
<line x1="308.80" x2="308.80" y1="66.15" y2="538.22" class="gl"/>
<g transform="translate(61.2,62.2) rotate(-41.4)"><text x="0" y="0" class="hd">PD-AS vs PD-GB</text><text x="10.4" y="9.9" class="hd" style="font-size:9.7px">U87<tspan class="sub" dy="2" dx="0">MUT</tspan><tspan dy="-2"> vs U87</tspan><tspan class="sub" dy="2" dx="0.1">WT</tspan></text></g>
<g transform="translate(169.9,61.8) rotate(-41.4)"><text x="0" y="0" class="hd">PD-AS vs PD-GB</text><text x="10.4" y="9.9" class="hd" style="font-size:9.7px">U87<tspan class="sub" dy="2" dx="0">MUT</tspan><tspan dy="-2"> vs U87</tspan><tspan class="sub" dy="2" dx="0.1">WT</tspan></text></g>
<g transform="translate(290.2,62.0) rotate(-41.4)"><text x="0" y="0" class="hd">PD-AS vs PD-GB</text><text x="10.4" y="9.9" class="hd" style="font-size:9.7px">U87<tspan class="sub" dy="2" dx="0">MUT</tspan><tspan dy="-2"> vs U87</tspan><tspan class="sub" dy="2" dx="0.1">WT</tspan></text></g>
<rect x="193.6" y="557" width="114.4" height="6.2" fill="url(#cb)"/>
<line x1="204.7" x2="204.7" y1="563.2" y2="564.6" stroke="#222" stroke-width="0.7"/>
<text x="206.1" y="572.5" class="cbt" style="font-size:7.6px" text-anchor="middle">0.5</text>
<line x1="228.3" x2="228.3" y1="563.2" y2="564.6" stroke="#222" stroke-width="0.7"/>
<text x="229.7" y="572.5" class="cbt" style="font-size:7.6px" text-anchor="middle">0.67</text>
<line x1="251.8" x2="251.8" y1="563.2" y2="564.6" stroke="#222" stroke-width="0.7"/>
<text x="253.2" y="572.5" class="cbt" style="font-size:7.6px" text-anchor="middle">1</text>
<line x1="277.5" x2="277.5" y1="563.2" y2="564.6" stroke="#222" stroke-width="0.7"/>
<text x="278.9" y="572.5" class="cbt" style="font-size:7.6px" text-anchor="middle">1.5</text>
<line x1="299.6" x2="299.6" y1="563.2" y2="564.6" stroke="#222" stroke-width="0.7"/>
<text x="301.0" y="572.5" class="cbt" style="font-size:7.6px" text-anchor="middle">2</text>
<text x="250.5" y="580.8" class="cbt" text-anchor="middle">Fold difference</text>
<rect x="410.80" y="231.36" width="33.80" height="102.84" fill="#7dc772"/>
<rect x="410.80" y="194.69" width="33.80" height="36.67" fill="#000"/>
<rect x="410.80" y="127.83" width="33.80" height="66.86" fill="#ef4047"/>
<rect x="410.80" y="127.83" width="33.80" height="206.37" fill="none" stroke="#555" stroke-width="0.6"/>
<rect x="458.30" y="279.62" width="33.80" height="54.58" fill="#7dc772"/>
<rect x="458.30" y="179.68" width="33.80" height="99.94" fill="#000"/>
<rect x="458.30" y="160.07" width="33.80" height="19.61" fill="#ef4047"/>
<rect x="458.30" y="160.07" width="33.80" height="174.13" fill="none" stroke="#555" stroke-width="0.6"/>
<rect x="503.60" y="320.73" width="33.40" height="13.47" fill="#7dc772"/>
<rect x="503.60" y="320.73" width="33.40" height="0.00" fill="#000"/>
<rect x="503.60" y="317.32" width="33.40" height="3.41" fill="#ef4047"/>
<rect x="503.60" y="317.32" width="33.40" height="16.88" fill="none" stroke="#555" stroke-width="0.6"/>
<rect x="400.2" y="65.9" width="145.90000000000003" height="268.29999999999995" fill="none" stroke="#1a1a1a" stroke-width="1"/>
<line x1="395.6" x2="400.2" y1="334.20" y2="334.20" stroke="#777" stroke-width="0.8"/>
<text x="391.3" y="338.70" class="tk" text-anchor="end">0</text>
<line x1="397.8" x2="400.2" y1="317.14" y2="317.14" stroke="#777" stroke-width="0.8"/>
<line x1="395.6" x2="400.2" y1="300.09" y2="300.09" stroke="#777" stroke-width="0.8"/>
<text x="391.3" y="303.89" class="tk" text-anchor="end">20</text>
<line x1="397.8" x2="400.2" y1="283.03" y2="283.03" stroke="#777" stroke-width="0.8"/>
<line x1="395.6" x2="400.2" y1="265.98" y2="265.98" stroke="#777" stroke-width="0.8"/>
<text x="391.3" y="269.78" class="tk" text-anchor="end">40</text>
<line x1="397.8" x2="400.2" y1="248.92" y2="248.92" stroke="#777" stroke-width="0.8"/>
<line x1="395.6" x2="400.2" y1="231.87" y2="231.87" stroke="#777" stroke-width="0.8"/>
<text x="391.3" y="235.67" class="tk" text-anchor="end">60</text>
<line x1="397.8" x2="400.2" y1="214.81" y2="214.81" stroke="#777" stroke-width="0.8"/>
<line x1="395.6" x2="400.2" y1="197.76" y2="197.76" stroke="#777" stroke-width="0.8"/>
<text x="391.3" y="201.56" class="tk" text-anchor="end">80</text>
<line x1="397.8" x2="400.2" y1="180.70" y2="180.70" stroke="#777" stroke-width="0.8"/>
<line x1="395.6" x2="400.2" y1="163.65" y2="163.65" stroke="#777" stroke-width="0.8"/>
<text x="391.3" y="167.45" class="tk" text-anchor="end">100</text>
<line x1="397.8" x2="400.2" y1="146.59" y2="146.59" stroke="#777" stroke-width="0.8"/>
<line x1="395.6" x2="400.2" y1="129.54" y2="129.54" stroke="#777" stroke-width="0.8"/>
<text x="391.3" y="133.34" class="tk" text-anchor="end">120</text>
<line x1="397.8" x2="400.2" y1="112.48" y2="112.48" stroke="#777" stroke-width="0.8"/>
<line x1="395.6" x2="400.2" y1="95.43" y2="95.43" stroke="#777" stroke-width="0.8"/>
<text x="391.3" y="99.23" class="tk" text-anchor="end">140</text>
<line x1="397.8" x2="400.2" y1="78.38" y2="78.38" stroke="#777" stroke-width="0.8"/>
<text x="427.4" y="165.90" class="bn" text-anchor="middle">40</text>
<text x="475.9" y="174.10" class="bn" text-anchor="middle">12</text>
<text x="427.3" y="293.30" class="bn" text-anchor="middle">60</text>
<text x="475.6" y="317.90" class="bn" text-anchor="middle">32</text>
<text x="519.2" y="331.90" class="bn" text-anchor="middle">8</text>
<text transform="translate(367.6,195) rotate(-90)" class="tk" text-anchor="middle">Number of DNA repair proteins</text>
<rect x="469.5" y="72.20" width="7.6" height="7" fill="#ee2d36" stroke="#888" stroke-width=".4"/>
<text x="480.8" y="79.40" class="lg">Upregulated</text>
<rect x="469.5" y="83.40" width="7.6" height="7" fill="#6ac651" stroke="#888" stroke-width=".4"/>
<text x="480.8" y="90.60" class="lg">Downregulated</text>
<rect x="469.5" y="94.60" width="7.6" height="7" fill="#000" stroke="#888" stroke-width=".4"/>
<text x="480.8" y="101.80" class="lg">Not affected</text>
<text transform="translate(431.8,341.5) rotate(-42)" class="hd xl" text-anchor="end">PD-AS vs PD-GB</text>
<text transform="translate(478.6,341.2) rotate(-42)" class="hd xl" text-anchor="end">U87<tspan class="sub" dy="1.5" dx="0.3">MUT</tspan><tspan dy="-1.5"> vs U87</tspan><tspan class="sub" dy="1.5" dx="0.3">WT</tspan></text>
<text transform="translate(523.8,340.8) rotate(-42)" class="hd xl" text-anchor="end">Common</text>
<line x1="503" x2="503" y1="364.8" y2="381.6" stroke="#666" stroke-width="0.6"/>
<line x1="485" x2="485" y1="384" y2="405.6" stroke="#444" stroke-width="1.2"/>
<line x1="485" x2="485" y1="408" y2="497.4" stroke="#444" stroke-width="1.2"/>
<text transform="translate(487.9,393.00) scale(.95,1)" class="cm" style="fill:#ec2c36;stroke:#ec2c36">ASMTL</text>
<text transform="translate(487.9,404.65) scale(.95,1)" class="cm" style="fill:#ec2c36;stroke:#ec2c36">RB1</text>
<text transform="translate(487.9,416.30) scale(.95,1)" class="cm" style="fill:#18a455;stroke:#18a455">ASF1A</text>
<text transform="translate(487.9,427.95) scale(.95,1)" class="cm" style="fill:#18a455;stroke:#18a455">CHD4</text>
<text transform="translate(487.9,439.60) scale(.95,1)" class="cm" style="fill:#18a455;stroke:#18a455">HTATSF1</text>
<text transform="translate(487.9,451.25) scale(.95,1)" class="cm" style="fill:#18a455;stroke:#18a455">LIG3</text>
<text transform="translate(487.9,462.90) scale(.95,1)" class="cm" style="fill:#18a455;stroke:#18a455">POGZ</text>
<text transform="translate(487.9,474.55) scale(.95,1)" class="cm" style="fill:#18a455;stroke:#18a455">POLR2I</text>
<text transform="translate(487.9,486.20) scale(.95,1)" class="cm" style="fill:#18a455;stroke:#18a455">SMARCD1</text>
<text transform="translate(487.9,497.85) scale(.95,1)" class="cm" style="fill:#18a455;stroke:#18a455">SMCHD1</text>
<text x="478.6" y="399.6" class="ud" text-anchor="end">Up</text>
<text x="479.8" y="456" class="ud" text-anchor="end">Down</text>
</svg>
</body></html>
